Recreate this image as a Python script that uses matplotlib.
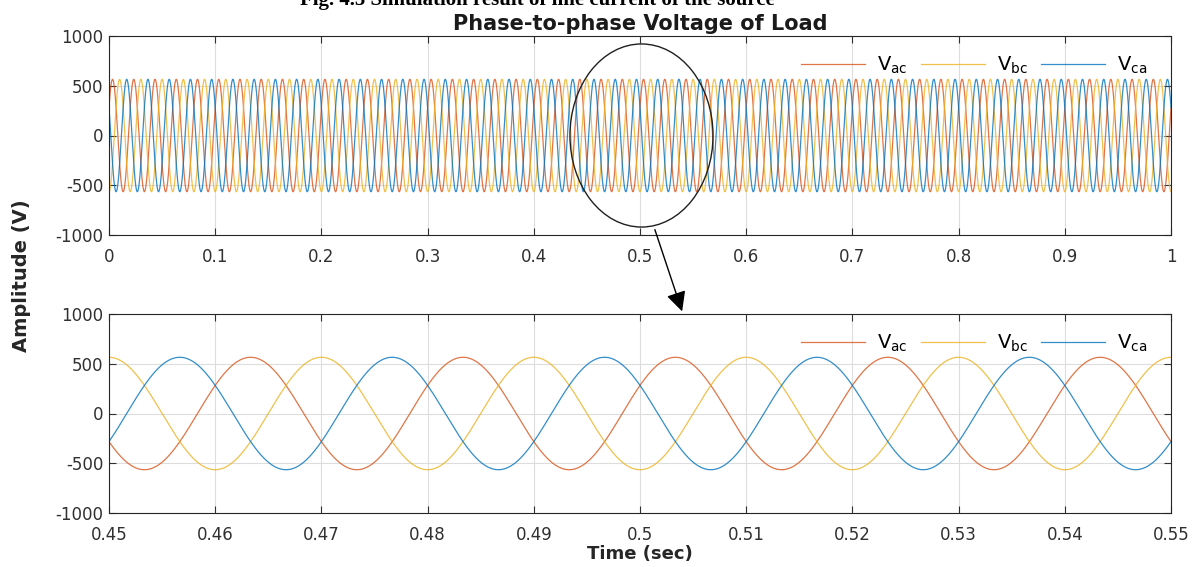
#!/usr/bin/env python3

import matplotlib.pyplot as plt
import numpy as np
from matplotlib.patches import Ellipse, FancyArrowPatch

phase_names = ['$\\mathregular{V_{ac}}$', '$\\mathregular{V_{bc}}$', '$\\mathregular{V_{ca}}$']
phase_colors = ['#D95319', '#EDB120', '#0072BD']
amplitude = 565.0        # Spitzenwert in V
frequency = 50.0         # Netzfrequenz in Hz
phase_deg = [30.0, -90.0, 150.0]

full_range = [0.0, 1.0]
zoom_range = [0.45, 0.55]
y_limits = [-1000, 1000]
y_ticks = [-1000, -500, 0, 500, 1000]
full_ticks = [0, 0.1, 0.2, 0.3, 0.4, 0.5, 0.6, 0.7, 0.8, 0.9, 1]
full_ticklabels = ['0', '0.1', '0.2', '0.3', '0.4', '0.5', '0.6', '0.7', '0.8', '0.9', '1']
zoom_ticks = [0.45, 0.46, 0.47, 0.48, 0.49, 0.5, 0.51, 0.52, 0.53, 0.54, 0.55]
zoom_ticklabels = ['0.45', '0.46', '0.47', '0.48', '0.49', '0.5', '0.51', '0.52', '0.53', '0.54', '0.55']

plt.rcParams['font.family'] = ['DejaVu Sans']
plt.rcParams['axes.unicode_minus'] = False
plt.rcParams['mathtext.fontset'] = 'dejavusans'


def style_axes(ax, xlim, ticks, labels):
    ax.set_xlim(xlim)
    ax.set_ylim(y_limits)
    ax.set_xticks(ticks)
    ax.set_xticklabels(labels)
    ax.set_yticks(y_ticks)
    ax.grid(True, color='#dddddd', linewidth=0.8)
    ax.set_axisbelow(True)
    ax.tick_params(direction='in', top=True, right=True, length=5, width=0.8,
                   labelsize=12, colors='#303030')
    ax.tick_params(axis='x', pad=9)
    ax.tick_params(axis='y', pad=4)
    for s in ax.spines.values():
        s.set_color('#262626')
        s.set_linewidth(0.8)


def draw_phases(ax, xlim, n):
    t = np.linspace(xlim[0], xlim[1], n)
    for name, col, ph in zip(phase_names, phase_colors, phase_deg):
        v = amplitude * np.sin(2 * np.pi * frequency * t + np.deg2rad(ph))
        ax.plot(t, v, color=col, linewidth=0.9, alpha=0.8, label=name)
    leg = ax.legend(loc='upper right', ncol=3, frameon=False, fontsize=14,
                    handlelength=3.3, columnspacing=0.7, handletextpad=0.6,
                    bbox_to_anchor=(0.985, 0.945), borderaxespad=0.0)
    return leg


fig = plt.figure(figsize=(12.01, 5.67), dpi=100)
W, H = 1201, 567
ax1 = fig.add_axes([109 / W, 1 - 235 / H, 1062 / W, 199 / H])
ax2 = fig.add_axes([109 / W, 1 - 513 / H, 1062 / W, 199 / H])

draw_phases(ax1, full_range, 20000)
style_axes(ax1, full_range, full_ticks, full_ticklabels)
ax1.set_title('Phase-to-phase Voltage of Load', fontsize=15, fontweight='bold', pad=4,
              color='#1a1a1a')

draw_phases(ax2, zoom_range, 4000)
style_axes(ax2, zoom_range, zoom_ticks, zoom_ticklabels)
ax2.set_xlabel('Time (sec)', fontsize=13, fontweight='bold', labelpad=1, color='#262626')

fig.text(22 / W, 1 - 276 / H, 'Amplitude (V)', rotation=90, fontsize=14,
         fontweight='bold', va='center', ha='center', color='#262626')

# abgeschnittene Bildunterschrift am oberen Rand
fig.text(300 / W, 1 - 5 / H, 'Fig. 4.5 Simulation result of line current of the source',
         family=['Liberation Serif', 'DejaVu Serif'], fontsize=15, fontweight='bold',
         ha='left', va='baseline')

# Markierung des vergroesserten Bereichs
ell = Ellipse((0.5014, 0.0), 0.1347, 1840, fill=False, edgecolor='#202020', linewidth=1.0,
              transform=ax1.transData, clip_on=False, zorder=5)
ax1.add_patch(ell)
arr = FancyArrowPatch((654 / W, 1 - 227 / H), (683 / W, 1 - 314 / H),
                      transform=fig.transFigure, arrowstyle='-|>,head_length=8,head_width=4',
                      color='black', linewidth=1.0, mutation_scale=1.5)
fig.patches.append(arr)

fig.savefig('out.png', dpi=100)
